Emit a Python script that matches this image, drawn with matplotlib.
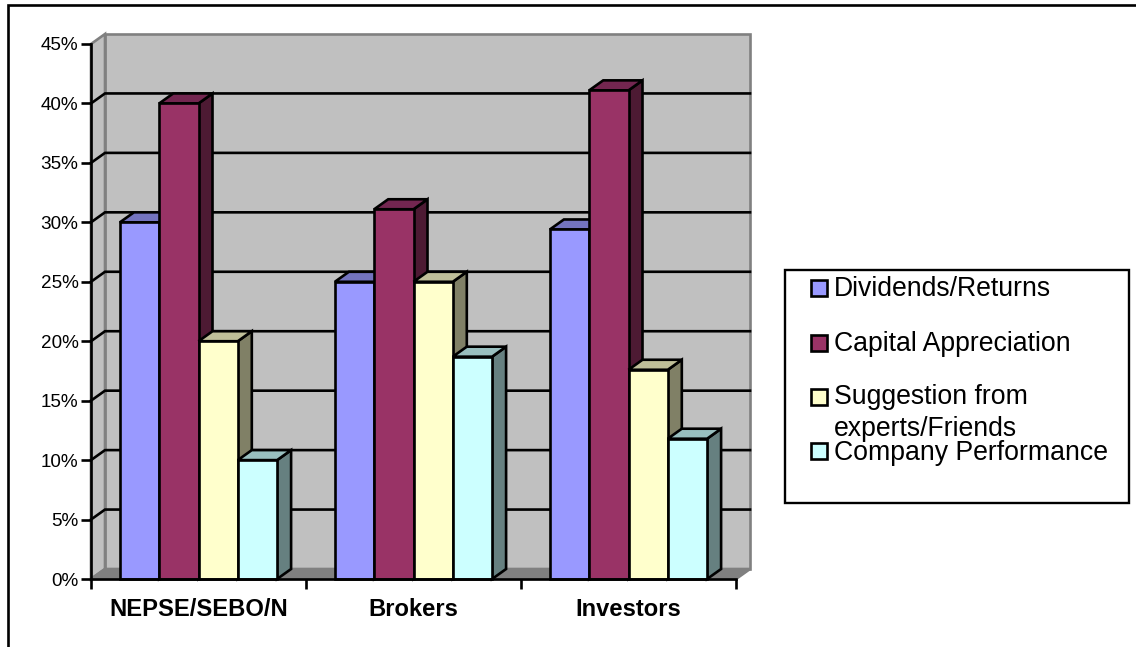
import numpy as np
import matplotlib
matplotlib.use("Agg")
import matplotlib.pyplot as plt
from matplotlib.patches import Polygon, Rectangle

plt.rcParams["font.family"] = ["Liberation Sans", "DejaVu Sans"]

# data
categories = ["NEPSE/SEBO/N", "Brokers", "Investors"]
series = ["Dividends/Returns", "Capital Appreciation", "Suggestion from\nexperts/Friends", "Company Performance"]
dividends = [30, 25, 29.4]
capital = [40, 31.1, 41.1]
suggestion = [20, 25, 17.6]
company = [10, 18.7, 11.8]
yticks = [0, 5, 10, 15, 20, 25, 30, 35, 40, 45]

values = [dividends, capital, suggestion, company]
front = ["#9999ff", "#993366", "#ffffcc", "#ccffff"]
top = ["#7373bf", "#732650", "#bfbf99", "#99bfbf"]
side = ["#4d4d80", "#4d1a33", "#808066", "#668080"]

W, H = 1136, 647
fig = plt.figure(figsize=(W / 100, H / 100), dpi=100, facecolor="white")

# outer frame, only its top and left edges fall inside the picture
fig.add_artist(Rectangle((7.5 / W, 1 - 660 / H), 1150 / W, 654.5 / H, transform=fig.transFigure,
                         fill=False, ec="black", lw=1.9))

ax = fig.add_axes([91 / W, 1 - 579 / H, 645 / W, 535 / H])
ax.set_xlim(-0.5, 2.5)
ax.set_ylim(0, 45)
ax.patch.set_visible(False)

# depth of the fake 3d, in data units
dx = 14 / 215
dy = 10 / (535 / 45)
lw = 1.9


def poly(pts, fc, ec="black", z=3, width=lw):
    ax.add_patch(Polygon(pts, closed=True, fc=fc, ec=ec, lw=width, zorder=z,
                         clip_on=False, joinstyle="miter"))


# walls and floor
poly([(-0.5 + dx, dy), (2.5 + dx, dy), (2.5 + dx, 45 + dy), (-0.5 + dx, 45 + dy)], "#c0c0c0", "#808080", 1)
poly([(-0.5, 0), (-0.5 + dx, dy), (-0.5 + dx, 45 + dy), (-0.5, 45)], "#c0c0c0", "#808080", 1)
poly([(-0.5, 0), (2.5, 0), (2.5 + dx, dy), (-0.5 + dx, dy)], "#808080", "#808080", 1)

# gridlines on the back wall
for t in yticks[1:-1]:
    ax.plot([-0.5, -0.5 + dx, 2.5 + dx], [t, t + dy, t + dy], color="black", lw=lw, zorder=2,
            clip_on=False, solid_joinstyle="miter")

# bars
bw = 39.3 / 215
n = len(series)
z = 3
for c in range(len(categories)):
    for s in range(n):
        x0 = c + (s - n / 2) * bw
        x1 = x0 + bw
        v = values[s][c]
        poly([(x1, 0), (x1 + dx, dy), (x1 + dx, v + dy), (x1, v)], side[s], z=z)
        poly([(x0, v), (x1, v), (x1 + dx, v + dy), (x0 + dx, v + dy)], top[s], z=z)
        ax.bar(x0, v, bw, align="edge", color=front[s], edgecolor="black", lw=lw, zorder=z, clip_on=False)
        z += 1

# axes
for k in ["top", "right"]:
    ax.spines[k].set_visible(False)
for k in ["left", "bottom"]:
    ax.spines[k].set_linewidth(lw)
    ax.spines[k].set_zorder(50)
ax.set_yticks(yticks)
ax.set_yticklabels([f"{t}%" for t in yticks], fontsize=13.6, color="black")
ax.set_xticks([-0.5, 0.5, 1.5, 2.5])
ax.set_xticklabels([])
ax.tick_params(axis="both", length=7, width=lw, color="black")
ax.tick_params(axis="y", pad=2)
for i, name in enumerate(categories):
    ax.annotate(name, (i, 0), xytext=(0, -31), textcoords="offset pixels", ha="center", va="center",
                fontsize=17.1, fontweight="bold", annotation_clip=False, xycoords="data")

# legend box
fig.add_artist(Rectangle((785 / W, 1 - 503 / H), 344 / W, 233 / H, transform=fig.transFigure,
                         fc="white", ec="black", lw=1.7))
legend_y = [288, 343, 397, 451]
text_y = [289, 344, 413, 453]
for s, name in enumerate(series):
    fig.add_artist(Rectangle((811 / W, 1 - (legend_y[s] + 8) / H), 16 / W, 16 / H, transform=fig.transFigure,
                             fc=front[s], ec="black", lw=1.9))
    fig.text(834 / W, 1 - text_y[s] / H, name, fontsize=19.15, ha="left", va="center",
             linespacing=1.33)

fig.savefig("out.png", dpi=100)
